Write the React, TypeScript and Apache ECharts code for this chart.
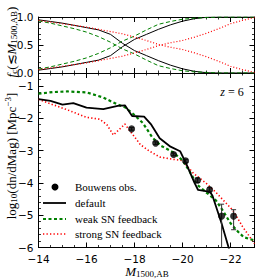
import React, { useEffect, useRef } from "react";
import * as echarts from "echarts";

// ---- data ----
const fracM = [-14, -14.5, -15, -15.5, -16, -16.5, -17, -17.5, -18, -18.5, -19, -19.5, -20, -20.5, -21, -21.5, -22, -22.5, -23];
const defaultFracDec = [0.95, 0.92, 0.89, 0.85, 0.81, 0.77, 0.69, 0.53, 0.4, 0.31, 0.22, 0.14, 0.075, 0.03, 0.005, 0, 0, 0, 0];
const defaultFracInc = [0.05, 0.08, 0.11, 0.15, 0.19, 0.23, 0.31, 0.47, 0.6, 0.69, 0.78, 0.86, 0.925, 0.97, 0.995, 1, 1, 1, 1];
const weakFracDec = [0.93, 0.89, 0.84, 0.79, 0.73, 0.65, 0.55, 0.43, 0.34, 0.23, 0.13, 0.08, 0.04, 0.02, 0.01, 0, 0, 0, 0];
const weakFracInc = [0.07, 0.11, 0.16, 0.21, 0.27, 0.35, 0.45, 0.57, 0.66, 0.77, 0.87, 0.92, 0.96, 0.98, 0.99, 1, 1, 1, 1];
const strongFracDec = [0.94, 0.91, 0.88, 0.85, 0.82, 0.78, 0.74, 0.7, 0.64, 0.58, 0.51, 0.46, 0.42, 0.36, 0.29, 0.21, 0.12, 0.06, 0.01];
const strongFracInc = [0.06, 0.09, 0.12, 0.15, 0.18, 0.22, 0.26, 0.3, 0.36, 0.42, 0.49, 0.54, 0.58, 0.64, 0.71, 0.79, 0.88, 0.94, 0.99];

const defaultM = [-14.0, -14.5, -15.0, -15.45, -16.0, -16.7, -17.3, -17.6, -17.9, -18.4, -18.7, -19.05, -19.5, -19.9, -20.15, -20.5, -20.65, -21.15, -21.25, -21.63, -22.0];
const defaultLF = [-1.41, -1.46, -1.58, -1.53, -1.67, -1.72, -1.62, -1.6, -1.93, -1.95, -2.2, -2.62, -2.88, -3.02, -3.4, -4.0, -4.22, -4.28, -4.4, -5.26, -6.2];
const weakM = [-14.0, -14.6, -15.2, -16.0, -16.7, -17.25, -17.6, -17.95, -18.35, -18.75, -19.1, -19.6, -20.0, -20.3, -20.6, -21.0, -21.4, -21.7, -22.0, -22.3, -22.55, -22.95];
const weakLF = [-1.24, -1.19, -1.17, -1.2, -1.36, -1.56, -1.66, -1.87, -2.15, -2.6, -2.85, -3.05, -3.3, -3.65, -4.05, -4.3, -4.55, -4.88, -5.25, -5.5, -5.68, -5.77];
const strongM = [-14.0, -14.6, -15.2, -16.0, -16.55, -16.85, -17.12, -17.6, -17.9, -18.25, -18.65, -19.05, -19.6, -20.0, -20.45, -21.0, -21.4, -22.1, -22.5, -22.8, -23.0];
const strongLF = [-1.41, -1.58, -1.74, -1.97, -2.03, -2.2, -2.52, -2.18, -2.48, -2.82, -3.03, -3.2, -3.27, -3.31, -3.7, -4.02, -4.3, -4.85, -5.35, -5.67, -5.88];

const obsM = [-17.88, -18.88, -19.63, -20.13, -20.63, -21.13, -21.63, -22.13];
const obsLF = [-2.33, -2.77, -3.12, -3.32, -3.92, -4.21, -5.03, -5.03];
const obsErrUp = [0.04, 0.04, 0.04, 0.05, 0.07, 0.07, 0.37, 0.2];
const obsErrDown = [0.04, 0.04, 0.04, 0.05, 0.07, 0.07, 1.5, 0.42];

const xMajorTicks = [-22, -20, -18, -16, -14];
const yTopMajorTicks = [0, 0.5, 1];
const yBotMajorTicks = [-6, -5, -4, -3, -2, -1];

const legendNames = ["Bouwens obs.", "default", "weak SN feedback", "strong SN feedback"];

const GREEN = "#008000";
const RED = "#ff0000";
const TICKFONT = "DejaVu Sans";
const SERIF = "Liberation Serif";

const minus = (s: string) => s.replace("-", "\u2212");

function xAxes(gridIndex: number, showLabels: boolean) {
  const base = { type: "value", gridIndex, min: -23, max: -14, inverse: true, splitLine: { show: false } };
  const mk = (position: string, major: boolean, labels: boolean) => ({
    ...base,
    position,
    interval: major ? 1 : 0.5,
    axisLine: { show: major, onZero: false, lineStyle: { color: "#000", width: 1 } },
    axisTick: major
      ? { show: true, inside: true, length: 5, customValues: xMajorTicks, lineStyle: { color: "#000", width: 1 } }
      : { show: true, inside: true, length: 2.5, lineStyle: { color: "#000", width: 0.8 } },
    axisLabel: labels
      ? { show: true, customValues: xMajorTicks, formatter: (v: number) => minus(String(v)), fontFamily: TICKFONT, fontSize: 10.5, color: "#000", margin: 6 }
      : { show: false },
  });
  return [mk("bottom", true, showLabels), mk("bottom", false, false), mk("top", true, false), mk("top", false, false)];
}

function yAxes(gridIndex: number, min: number, max: number, majors: number[], minorInt: number, fmt: (v: number) => string) {
  const base = { type: "value", gridIndex, min, max, splitLine: { show: false } };
  const mk = (position: string, major: boolean, labels: boolean) => ({
    ...base,
    position,
    interval: major ? 0.5 : minorInt,
    axisLine: { show: major, onZero: false, lineStyle: { color: "#000", width: 1 } },
    axisTick: major
      ? { show: true, inside: true, length: 5, customValues: majors, lineStyle: { color: "#000", width: 1 } }
      : { show: true, inside: true, length: 2.5, lineStyle: { color: "#000", width: 0.8 } },
    axisLabel: labels
      ? { show: true, customValues: majors, formatter: fmt, fontFamily: TICKFONT, fontSize: 10.5, color: "#000", margin: 5 }
      : { show: false },
  });
  return [mk("left", true, true), mk("left", false, false), mk("right", true, false), mk("right", false, false)];
}

const zip = (a: number[], b: number[]) => a.map((v, i) => [v, b[i]]);

export default function App() {
  const ref = useRef<HTMLDivElement>(null);
  useEffect(() => {
    if (!ref.current) return;
    const chart = echarts.init(ref.current, undefined, { renderer: "svg" });

    const topLine = (data: number[], color: string, type: any, width: number) => ({
      type: "line",
      xAxisIndex: 0,
      yAxisIndex: 0,
      data: zip(fracM, data),
      showSymbol: false,
      symbol: "none",
      lineStyle: { color, type, width },
      silent: true,
    });

    const sub = { fontFamily: SERIF, fontSize: 9, padding: [6, 0, 0, 0], color: "#000" };
    const sup = { fontFamily: SERIF, fontSize: 9, padding: [0, 0, 6, 0], color: "#000" };
    const rm = { fontFamily: SERIF, fontSize: 13, color: "#000" };
    const it = { fontFamily: SERIF, fontSize: 13, fontStyle: "italic", color: "#000" };

    const legendY = [187, 203, 219, 234];

    chart.setOption({
      animation: false,
      backgroundColor: "#fff",
      grid: [
        { left: 38.5, top: 17, width: 216, height: 56 },
        { left: 38.5, top: 73, width: 216, height: 174.5 },
      ],
      xAxis: [...xAxes(0, false), ...xAxes(1, true)],
      yAxis: [
        ...yAxes(0, 0, 1, yTopMajorTicks, 0.1, (v: number) => v.toFixed(1)),
        ...yAxes(1, -6, -0.6, yBotMajorTicks, 0.2, (v: number) => minus(String(v))),
      ],
      series: [
        topLine(defaultFracDec, "#000", "solid", 1),
        topLine(defaultFracInc, "#000", "solid", 1),
        topLine(weakFracDec, GREEN, [4, 2.5], 1),
        topLine(weakFracInc, GREEN, [4, 2.5], 1),
        topLine(strongFracDec, RED, [1, 2], 1.2),
        topLine(strongFracInc, RED, [1, 2], 1.2),
        {
          type: "line",
          name: legendNames[3],
          xAxisIndex: 4,
          yAxisIndex: 4,
          data: zip(strongM, strongLF),
          symbol: "none",
          lineStyle: { color: RED, type: [1.3, 2.2], width: 1.6 },
          z: 2,
        },
        {
          type: "line",
          name: legendNames[2],
          xAxisIndex: 4,
          yAxisIndex: 4,
          data: zip(weakM, weakLF),
          symbol: "none",
          lineStyle: { color: GREEN, type: [3, 2.5], width: 2.2 },
          z: 3,
        },
        {
          type: "line",
          name: legendNames[1],
          xAxisIndex: 4,
          yAxisIndex: 4,
          data: zip(defaultM, defaultLF),
          symbol: "none",
          lineStyle: { color: "#000", width: 1.8 },
          z: 4,
        },
        {
          type: "custom",
          xAxisIndex: 4,
          yAxisIndex: 4,
          clip: true,
          data: obsM.map((m, i) => [m, obsLF[i], obsLF[i] - obsErrDown[i], obsLF[i] + obsErrUp[i]]),
          renderItem: (params: any, api: any) => {
            const x = api.value(0);
            const lo = api.coord([x, api.value(2)]);
            const hi = api.coord([x, api.value(3)]);
            const st = { stroke: "#333", lineWidth: 1 };
            return {
              type: "group",
              children: [
                { type: "line", shape: { x1: lo[0], y1: lo[1], x2: hi[0], y2: hi[1] }, style: st },
                { type: "line", shape: { x1: lo[0] - 2.5, y1: lo[1], x2: lo[0] + 2.5, y2: lo[1] }, style: st },
                { type: "line", shape: { x1: hi[0] - 2.5, y1: hi[1], x2: hi[0] + 2.5, y2: hi[1] }, style: st },
              ],
            };
          },
          z: 5,
        },
        {
          type: "scatter",
          name: legendNames[0],
          xAxisIndex: 4,
          yAxisIndex: 4,
          data: zip(obsM, obsLF),
          symbol: "circle",
          symbolSize: 7,
          itemStyle: { color: "#000" },
          z: 6,
        },
      ],
      graphic: [
        // legend
        { type: "circle", shape: { cx: 55, cy: legendY[0], r: 3.5 }, style: { fill: "#000" } },
        { type: "line", shape: { x1: 43, y1: legendY[1], x2: 66, y2: legendY[1] }, style: { stroke: "#000", lineWidth: 1.8 } },
        { type: "line", shape: { x1: 43, y1: legendY[2], x2: 66, y2: legendY[2] }, style: { stroke: GREEN, lineWidth: 2.2, lineDash: [3, 2.5] } },
        { type: "line", shape: { x1: 43, y1: legendY[3], x2: 66, y2: legendY[3] }, style: { stroke: RED, lineWidth: 1.6, lineDash: [1.3, 2.2] } },
        ...legendNames.map((n, i) => ({
          type: "text",
          x: 75,
          y: legendY[i],
          style: { text: n, fontFamily: SERIF, fontSize: 11, fill: "#000", align: "left", verticalAlign: "middle" },
        })),
        // z = 6
        {
          type: "text",
          x: 232,
          y: 92,
          style: {
            text: "{i|z}{r| = 6}",
            align: "center",
            verticalAlign: "middle",
            rich: { i: { ...it, fontSize: 12 }, r: { ...rm, fontSize: 12 } },
          },
        },
        // x label
        {
          type: "text",
          x: 147,
          y: 271,
          style: {
            text: "{i|M}{s|1500,AB}",
            align: "center",
            verticalAlign: "middle",
            rich: { i: { ...it, lineHeight: 12 }, s: sub },
          },
        },
        // top y label
        {
          type: "text",
          x: 11,
          y: 42,
          rotation: Math.PI / 2,
          style: {
            text: "{i|f}{s|c}{r|(\u2272}{i|M}{s|1500,AB}{r|)}",
            align: "center",
            verticalAlign: "middle",
            rich: { i: it, s: sub, r: rm },
          },
        },
        // bottom y label
        {
          type: "text",
          x: 11,
          y: 156,
          rotation: Math.PI / 2,
          style: {
            text: "{r|log}{s|10}{r|(dn/dMag) [Mpc}{p|\u22123}{r|]}",
            align: "center",
            verticalAlign: "middle",
            rich: { r: rm, s: sub, p: sup },
          },
        },
      ],
    });
    return () => chart.dispose();
  }, []);
  return <div ref={ref} style={{ position: "fixed", left: 0, top: 0, width: 269, height: 279 }} />;
}
